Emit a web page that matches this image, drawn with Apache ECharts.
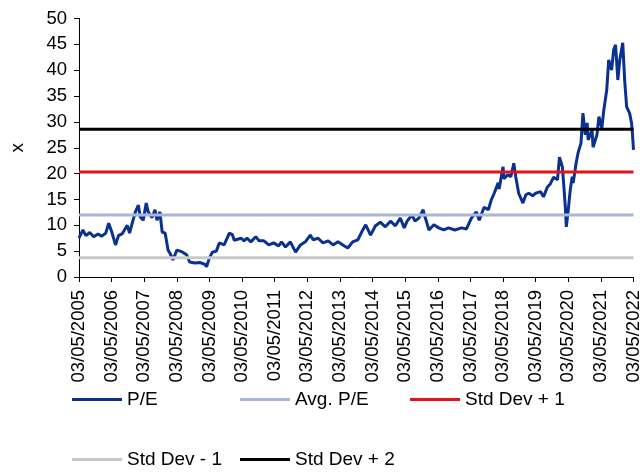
<!DOCTYPE html>
<html>
<head>
<meta charset="utf-8">
<script src="https://cdn.jsdelivr.net/npm/echarts@6/dist/echarts.min.js"></script>
<style>
html,body{margin:0;padding:0;background:#fff;}
#c{width:643px;height:476px;}
</style>
</head>
<body>
<div id="c"></div>
<script>
// Tick labels (one per year, 03/05/2005 ... 03/05/2022)
const tickLabels = ['03/05/2005','03/05/2006','03/05/2007','03/05/2008','03/05/2009','03/05/2010',
  '03/05/2011','03/05/2012','03/05/2013','03/05/2014','03/05/2015','03/05/2016','03/05/2017',
  '03/05/2018','03/05/2019','03/05/2020','03/05/2021','03/05/2022'];

// P/E time: years elapsed since 03/05/2005
const peTime = [0,0.12,0.21,0.33,0.45,0.58,0.70,0.82,0.91,1.0,1.12,1.21,1.33,1.48,1.55,1.64,1.73,1.82,1.88,1.97,
  2.06,2.12,2.24,2.33,2.39,2.48,2.55,2.64,2.73,2.79,2.88,3.0,3.15,3.30,3.39,3.55,3.70,3.85,3.91,4.0,
  4.09,4.21,4.30,4.45,4.61,4.70,4.76,4.97,5.06,5.15,5.27,5.42,5.52,5.67,5.82,5.97,6.12,6.21,6.33,6.48,
  6.64,6.79,6.94,7.09,7.18,7.33,7.48,7.64,7.79,7.94,8.09,8.24,8.39,8.55,8.70,8.79,8.94,9.09,9.24,9.39,
  9.55,9.70,9.85,9.97,10.06,10.21,10.30,10.42,10.55,10.61,10.73,10.88,11.03,11.18,11.33,11.52,11.73,11.88,12.03,12.18,
  12.27,12.42,12.55,12.64,12.73,12.85,12.88,13.0,13.03,13.15,13.24,13.33,13.39,13.48,13.61,13.70,13.79,13.91,14.0,14.15,
  14.24,14.36,14.45,14.55,14.67,14.73,14.82,14.85,14.91,14.94,15.0,15.06,15.12,15.15,15.24,15.30,15.39,15.45,15.52,15.58,
  15.61,15.73,15.76,15.88,15.94,16.03,16.09,16.18,16.24,16.33,16.39,16.45,16.52,16.58,16.67,16.73,16.79,16.88,16.94,16.97,17.0];
// P/E values
const peValue = [7.5,9.1,8.0,8.6,7.8,8.3,7.9,8.5,10.4,8.8,6.2,8.0,8.4,10.0,8.5,10.6,12.6,13.9,11.6,11.0,
  14.3,12.6,11.5,13.0,11.0,12.6,8.7,8.5,5.2,4.6,3.3,5.2,4.9,4.3,2.9,2.7,2.8,2.5,2.0,3.7,
  4.8,5.0,6.6,6.2,8.5,8.2,7.1,7.5,7.0,7.5,6.8,7.8,7.0,7.0,6.2,6.6,6.0,6.8,5.8,6.8,
  4.8,6.2,6.8,8.1,7.2,7.5,6.6,7.0,6.2,6.8,6.2,5.6,6.8,7.2,9.1,10.1,8.1,9.9,10.6,9.7,
  10.8,9.9,11.4,9.5,10.8,12.0,10.8,11.4,13.0,11.6,9.1,10.1,9.5,9.1,9.5,9.1,9.5,9.3,11.4,12.6,
  11.0,13.5,13.0,14.9,16.2,18.2,17.0,21.3,19.0,19.8,19.4,22.0,19.4,16.2,14.3,15.9,16.2,15.7,16.2,16.5,
  15.5,17.4,18.0,19.3,18.8,23.2,21.3,18.8,13.5,9.7,13.0,16.8,19.4,18.2,22.0,24.0,25.9,31.7,27.5,29.8,
  26.5,28.4,25.1,27.5,31.0,28.8,32.3,36.2,42.0,40.0,43.9,44.9,38.1,42.0,45.3,38.0,32.9,31.7,29.8,27.5,24.6];

// Reference levels
const avgPE = 12.0;
const stdDevPlus1 = 20.3;
const stdDevMinus1 = 3.7;
const stdDevPlus2 = 28.6;

const peData = peTime.map((t, i) => [t, peValue[i]]);
const span = [0, tickLabels.length - 1];
const flat = v => span.map(t => [t, v]);

const FONT = '"Liberation Sans", Arial, sans-serif';
const chart = echarts.init(document.getElementById('c'), null, {renderer: 'canvas'});

function lineSeries(name, data, color, width) {
  return {
    name, type: 'line', data, symbol: 'none', showSymbol: false,
    lineStyle: {color, width}, itemStyle: {color}, animation: false,
    emphasis: {disabled: true}
  };
}

function legendItem(name, left, top) {
  return {
    data: [name], left, top, orient: 'horizontal', itemWidth: 50, itemHeight: 3, icon: 'rect',
    padding: 0, selectedMode: false,
    textStyle: {fontFamily: FONT, fontSize: 19, color: '#000'}
  };
}

chart.setOption({
  animation: false,
  backgroundColor: '#fff',
  grid: {left: 73, right: 9, top: 18.5, bottom: 199, containLabel: false},
  legend: [
    legendItem('P/E', 72, 390),
    legendItem('Avg. P/E', 240, 390),
    legendItem('Std Dev + 1', 410, 390),
    legendItem('Std Dev - 1', 72, 450),
    legendItem('Std Dev + 2', 240, 450)
  ],
  xAxis: {
    type: 'value', min: 0, max: tickLabels.length - 1, interval: 1,
    axisLine: {show: true, lineStyle: {color: '#000', width: 1}},
    axisTick: {show: true, length: 5, lineStyle: {color: '#000'}},
    splitLine: {show: false},
    axisLabel: {
      rotate: 90, margin: 13, color: '#000', fontFamily: FONT, fontSize: 18.5,
      formatter: v => tickLabels[Math.round(v)] || ''
    }
  },
  yAxis: {
    type: 'value', min: 0, max: 50, interval: 5,
    name: 'x', nameLocation: 'middle', nameGap: 52, nameRotate: 90,
    nameTextStyle: {color: '#000', fontFamily: FONT, fontSize: 19},
    axisLine: {show: true, lineStyle: {color: '#000', width: 1}},
    axisTick: {show: true, length: 5, lineStyle: {color: '#000'}},
    splitLine: {show: false},
    axisLabel: {margin: 12, color: '#000', fontFamily: FONT, fontSize: 18.5}
  },
  series: [
    lineSeries('P/E', peData, '#0B3190', 3),
    lineSeries('Avg. P/E', flat(avgPE), '#A8B6DA', 3),
    lineSeries('Std Dev + 1', flat(stdDevPlus1), '#E5121C', 3),
    lineSeries('Std Dev - 1', flat(stdDevMinus1), '#C8C8C8', 3),
    lineSeries('Std Dev + 2', flat(stdDevPlus2), '#000000', 3)
  ]
});
</script>
</body>
</html>
